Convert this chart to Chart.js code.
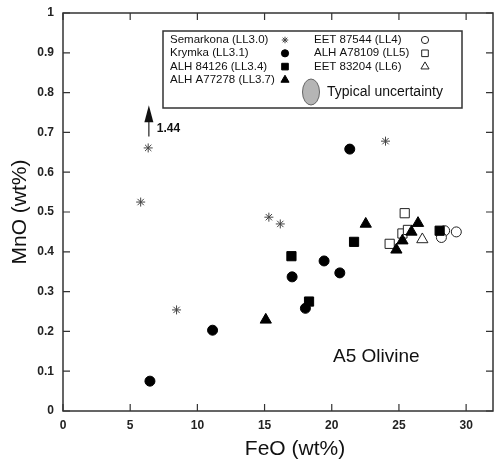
<!DOCTYPE html>
<html>
<head>
<meta charset="utf-8">
<script src="https://cdn.jsdelivr.net/npm/chart.js@4/dist/chart.umd.min.js"></script>
<style>
  body { margin: 0; background: #fff; }
</style>
</head>
<body>
<canvas id="graficoOlivina" width="494" height="460"></canvas>
<script>
// valores - FeO e MnO em wt%
var semarkonaFeO = [6.34, 5.78, 8.45, 15.32, 16.17, 24.0];
var semarkonaMnO = [0.661, 0.525, 0.254, 0.487, 0.470, 0.678];
var krymkaFeO = [6.47, 11.13, 17.05, 18.04, 19.43, 20.6, 21.34];
var krymkaMnO = [0.075, 0.203, 0.337, 0.258, 0.377, 0.347, 0.658];
var alh84126FeO = [17.0, 18.31, 21.66, 28.03];
var alh84126MnO = [0.389, 0.275, 0.425, 0.453];
var alhA77278FeO = [15.09, 22.53, 24.81, 25.26, 25.93, 26.42];
var alhA77278MnO = [0.229, 0.470, 0.405, 0.428, 0.450, 0.472];
var eet87544FeO = [28.4, 28.16, 29.27];
var eet87544MnO = [0.453, 0.436, 0.450];
var alhA78109FeO = [25.43, 25.26, 24.31, 25.67];
var alhA78109MnO = [0.497, 0.446, 0.420, 0.455];
var eet83204FeO = [26.74];
var eet83204MnO = [0.431];

// ponto da Semarkona fora da escala (seta)
var foraEscalaFeO = 6.39;
var foraEscalaMnO = 1.44;

var xTicks = [0, 5, 10, 15, 20, 25, 30];
var yTicks = [0, 0.1, 0.2, 0.3, 0.4, 0.5, 0.6, 0.7, 0.8, 0.9, 1];

function pontos(xs, ys) {
    return xs.map(function(x, i) { return { x: x, y: ys[i] }; });
}

var series = [
    { label: 'Semarkona (LL3.0)', data: pontos(semarkonaFeO, semarkonaMnO), pointStyle: 'star', pointRadius: 4.5, pointBackgroundColor: '#444', pointBorderColor: '#444', pointBorderWidth: 1 },
    { label: 'Krymka (LL3.1)', data: pontos(krymkaFeO, krymkaMnO), pointStyle: 'circle', pointRadius: 5, pointBackgroundColor: '#000', pointBorderColor: '#000', pointBorderWidth: 1 },
    { label: 'ALH 84126 (LL3.4)', data: pontos(alh84126FeO, alh84126MnO), pointStyle: 'rect', pointRadius: 6.5, pointBackgroundColor: '#000', pointBorderColor: '#000', pointBorderWidth: 1 },
    { label: 'ALH A77278 (LL3.7)', data: pontos(alhA77278FeO, alhA77278MnO), pointStyle: 'triangle', pointRadius: 6.5, pointBackgroundColor: '#000', pointBorderColor: '#000', pointBorderWidth: 1 },
    { label: 'EET 87544 (LL4)', data: pontos(eet87544FeO, eet87544MnO), pointStyle: 'circle', pointRadius: 5, pointBackgroundColor: '#fff', pointBorderColor: '#222', pointBorderWidth: 1 },
    { label: 'ALH A78109 (LL5)', data: pontos(alhA78109FeO, alhA78109MnO), pointStyle: 'rect', pointRadius: 6.5, pointBackgroundColor: '#fff', pointBorderColor: '#222', pointBorderWidth: 1 },
    { label: 'EET 83204 (LL6)', data: pontos(eet83204FeO, eet83204MnO), pointStyle: 'triangle', pointRadius: 6.5, pointBackgroundColor: '#fff', pointBorderColor: '#222', pointBorderWidth: 1 }
];

var fonte = "'Liberation Sans', Arial, sans-serif";

// moldura, ticks para dentro, legenda e anotações
var desenhoExtra = {
    id: 'desenhoExtra',
    beforeDatasetsDraw: function(chart) {
        var ctx = chart.ctx;
        var a = chart.chartArea;
        var sx = chart.scales.x, sy = chart.scales.y;
        ctx.save();
        ctx.strokeStyle = '#333';
        ctx.lineWidth = 1.5;
        ctx.strokeRect(a.left, a.top, a.right - a.left, a.bottom - a.top);
        ctx.lineWidth = 1.2;
        ctx.beginPath();
        xTicks.forEach(function(v) {
            var px = sx.getPixelForValue(v);
            ctx.moveTo(px, a.bottom); ctx.lineTo(px, a.bottom - 7);
            ctx.moveTo(px, a.top); ctx.lineTo(px, a.top + 7);
        });
        yTicks.forEach(function(v) {
            var py = sy.getPixelForValue(v);
            ctx.moveTo(a.left, py); ctx.lineTo(a.left + 7, py);
            ctx.moveTo(a.right, py); ctx.lineTo(a.right - 7, py);
        });
        ctx.stroke();

        // título do eixo x (um pouco deslocado p/ direita, como no original)
        ctx.fillStyle = '#111';
        ctx.font = '21px ' + fonte;
        ctx.textAlign = 'center';
        ctx.textBaseline = 'middle';
        ctx.fillText('FeO (wt%)', 295, 449);
        ctx.restore();
    },
    afterDatasetsDraw: function(chart) {
        var ctx = chart.ctx;
        var sx = chart.scales.x, sy = chart.scales.y;
        ctx.save();

        // seta do ponto fora de escala
        var ax = sx.getPixelForValue(foraEscalaFeO);
        var base = sy.getPixelForValue(0.69);
        var ponta = sy.getPixelForValue(0.768);
        ctx.strokeStyle = '#222';
        ctx.fillStyle = '#111';
        ctx.lineWidth = 1.2;
        ctx.beginPath();
        ctx.moveTo(ax, base); ctx.lineTo(ax, ponta + 12);
        ctx.stroke();
        ctx.beginPath();
        ctx.moveTo(ax, ponta);
        ctx.lineTo(ax - 4.5, ponta + 17);
        ctx.lineTo(ax + 4.5, ponta + 17);
        ctx.closePath();
        ctx.fill();
        ctx.font = 'bold 12px ' + fonte;
        ctx.textBaseline = 'middle';
        ctx.textAlign = 'left';
        ctx.fillText(foraEscalaMnO.toFixed(2), ax + 8, sy.getPixelForValue(0.71));

        // texto A5 Olivine
        ctx.font = '19px ' + fonte;
        ctx.fillStyle = '#111';
        ctx.fillText('A5 Olivine', 333, 357);

        // caixa da legenda
        ctx.fillStyle = '#fff';
        ctx.fillRect(163, 31, 299, 77);
        ctx.strokeStyle = '#333';
        ctx.lineWidth = 1.5;
        ctx.strokeRect(163, 31, 299, 77);

        ctx.font = '11.5px ' + fonte;
        ctx.textBaseline = 'middle';
        series.forEach(function(s, i) {
            var col = i < 4 ? 0 : 1;
            var linha = col === 0 ? i : i - 4;
            var tx = col === 0 ? 170 : 314;
            var mx = col === 0 ? 285 : 425;
            var ty = 40 + linha * 13.3;
            ctx.fillStyle = '#111';
            ctx.fillText(s.label, tx, ty);
            ctx.fillStyle = s.pointBackgroundColor;
            ctx.strokeStyle = s.pointBorderColor;
            ctx.lineWidth = 1;
            Chart.helpers.drawPoint(ctx, {
                pointStyle: s.pointStyle,
                radius: s.pointRadius * 0.72,
                rotation: 0,
                borderWidth: 1
            }, mx, ty);
        });

        // elipse da incerteza típica
        ctx.beginPath();
        ctx.ellipse(311, 92, 8.5, 13, 0, 0, Math.PI * 2);
        ctx.fillStyle = '#b5b5b5';
        ctx.fill();
        ctx.strokeStyle = '#666';
        ctx.lineWidth = 1;
        ctx.stroke();
        ctx.fillStyle = '#111';
        ctx.font = '14px ' + fonte;
        ctx.fillText('Typical uncertainty', 327, 92);

        ctx.restore();
    }
};

var ctx = document.getElementById('graficoOlivina').getContext('2d');
var grafico = new Chart(ctx, {
    type: 'scatter',
    data: { datasets: series },
    options: {
        responsive: false,
        animation: false,
        layout: { autoPadding: false, padding: { top: 13, right: 1, left: 0, bottom: 0 } },
        plugins: {
            legend: { display: false },
            tooltip: { enabled: false }
        },
        scales: {
            x: {
                type: 'linear',
                min: 0,
                max: 32,
                afterFit: function(scale) {
                    scale.height = 49;
                    scale.paddingLeft = 0;
                    scale.paddingRight = 0;
                },
                afterBuildTicks: function(scale) {
                    scale.ticks = xTicks.map(function(v) { return { value: v }; });
                },
                grid: { display: false, drawTicks: false },
                border: { display: false },
                ticks: {
                    padding: 7,
                    color: '#222',
                    font: { family: fonte, size: 12, weight: 'bold' },
                    callback: function(v) { return String(v); }
                },
                title: { display: false }
            },
            y: {
                type: 'linear',
                min: 0,
                max: 1,
                afterFit: function(scale) {
                    scale.width = 63;
                    scale.paddingTop = 0;
                    scale.paddingBottom = 0;
                },
                afterBuildTicks: function(scale) {
                    scale.ticks = yTicks.map(function(v) { return { value: v }; });
                },
                grid: { display: false, drawTicks: false },
                border: { display: false },
                ticks: {
                    padding: 9,
                    color: '#222',
                    font: { family: fonte, size: 12, weight: 'bold' },
                    callback: function(v) { return String(Number(v.toFixed(1))); }
                },
                title: {
                    display: true,
                    text: 'MnO (wt%)',
                    color: '#111',
                    font: { family: fonte, size: 21, lineHeight: 1 },
                    padding: { top: 10, bottom: 0 }
                }
            }
        }
    },
    plugins: [desenhoExtra]
});
</script>
</body>
</html>
